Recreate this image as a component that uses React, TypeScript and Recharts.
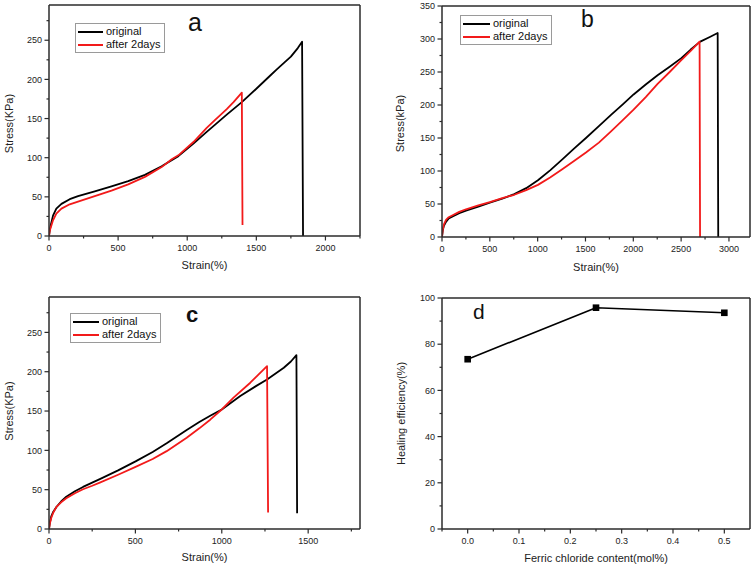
import React from "react";
import { LineChart, Line, XAxis, YAxis, ReferenceLine } from "recharts";

const FONT = '"Liberation Sans", Arial, sans-serif';
const AXIS = "#2b2b2b";
const BLACK = "#000000";
const RED = "#f21a1a";

// panel a
const aOrigStrain = [0, 5, 12, 29, 53, 90, 150, 210, 331, 452, 573, 694, 815, 936, 1045, 1141, 1200, 1286, 1395, 1500, 1601, 1650, 1700, 1750, 1800, 1831, 1838];
const aOrigStress = [0, 7, 13.6, 26, 35, 41, 47, 51, 57, 63.5, 70, 78, 89, 102, 118, 133, 142, 155, 171, 188, 205, 213, 221, 229, 240, 248, 0];
const aHealStrain = [0, 4, 10, 29, 53, 90, 150, 210, 331, 452, 573, 694, 815, 888, 936, 1045, 1141, 1200, 1286, 1335, 1395, 1400];
const aHealStress = [0, 5, 9.4, 20, 28.6, 35, 40.5, 44, 51, 58, 66, 75.5, 88, 98, 103, 120, 138, 148, 162, 171, 183, 14];
const aStrainTicks = [0, 250, 500, 750, 1000, 1250, 1500, 1750, 2000, 2250];
const aStressTicks = [0, 25, 50, 75, 100, 125, 150, 175, 200, 225, 250, 275];

// panel b
const bOrigStrain = [0, 8, 20, 42, 70, 111, 180, 251, 380, 500, 630, 756, 880, 1003, 1130, 1261, 1380, 1505, 1640, 1767, 1890, 2003, 2130, 2254, 2380, 2502, 2600, 2700, 2800, 2882, 2888];
const bOrigStress = [0, 10, 17, 23, 28, 31, 36, 40, 46, 52, 58, 65, 74, 86, 101, 118, 134, 150, 168, 185, 201, 216, 231, 245, 258, 271, 284, 296, 303, 309, 0];
const bHealStrain = [0, 8, 20, 42, 70, 111, 180, 251, 380, 500, 630, 756, 880, 1003, 1130, 1261, 1380, 1505, 1640, 1767, 1890, 2003, 2130, 2254, 2380, 2502, 2600, 2693, 2698];
const bHealStress = [0, 11, 19, 26, 30, 33, 38, 42, 48, 53, 59, 64, 71, 79, 90, 103, 115, 128, 143, 160, 177, 193, 212, 232, 250, 268, 282, 296, 0];
const bStrainTicks = [0, 250, 500, 750, 1000, 1250, 1500, 1750, 2000, 2250, 2500, 2750, 3000];
const bStressTicks = [0, 25, 50, 75, 100, 125, 150, 175, 200, 225, 250, 275, 300, 325, 350];

// panel c
const cOrigStrain = [0, 5, 13, 25, 43, 70, 100, 150, 197, 250, 294, 400, 501, 600, 681, 797, 870, 933, 1000, 1107, 1200, 1262, 1359, 1400, 1432, 1436];
const cOrigStress = [0, 8, 16, 22, 28, 35, 41, 48, 53.5, 59, 63.5, 74.5, 86, 98, 109, 126, 136, 144, 152, 169, 182, 190, 205, 213, 221, 20];
const cHealStrain = [0, 5, 13, 25, 43, 70, 100, 150, 197, 250, 294, 400, 501, 600, 681, 797, 870, 933, 1000, 1068, 1165, 1262, 1268];
const cHealStress = [0, 7, 14, 21, 28, 34, 39, 45.5, 50.5, 55, 59, 69, 79, 89, 99, 116, 128, 139, 152, 167, 186, 207, 21];
const cStrainTicks = [0, 250, 500, 750, 1000, 1250, 1500, 1750];
const cStressTicks = [0, 25, 50, 75, 100, 125, 150, 175, 200, 225, 250, 275];

// panel d
const dContent = [0, 0.25, 0.5];
const dEfficiency = [73.5, 95.8, 93.6];
const dContentTicks = [-0.05, 0, 0.05, 0.1, 0.15, 0.2, 0.25, 0.3, 0.35, 0.4, 0.45, 0.5];
const dEffTicks = [0, 10, 20, 30, 40, 50, 60, 70, 80, 90, 100];

const seriesNames = ["original", "after 2days"];

const toPoints = (xs: number[], ys: number[]) => xs.map((x, i) => ({ x, y: ys[i] }));

const isMajor = (v: number, step: number) => Math.abs(v / step - Math.round(v / step)) < 1e-6;

function makeTick(axis: "x" | "y", step: number, fmt: (v: number) => string) {
  return (props: any) => {
    const { x, y, payload } = props;
    const v = payload.value as number;
    const major = isMajor(v, step);
    const len = major ? 4.5 : 2.5;
    if (axis === "x") {
      return (
        <g>
          <line x1={x} x2={x} y1={y} y2={y + len} stroke={AXIS} strokeWidth={1.2} />
          {major && (
            <text x={x} y={y + 15} textAnchor="middle" fontSize={9} fill="#222" fontFamily={FONT}>
              {fmt(v)}
            </text>
          )}
        </g>
      );
    }
    return (
      <g>
        <line x1={x} x2={x - len} y1={y} y2={y} stroke={AXIS} strokeWidth={1.2} />
        {major && (
          <text x={x - 7} y={y + 3.2} textAnchor="end" fontSize={9} fill="#222" fontFamily={FONT}>
            {fmt(v)}
          </text>
        )}
      </g>
    );
  };
}

function XTitle(props: any) {
  const { viewBox, value, dy } = props;
  return (
    <text x={viewBox.x + viewBox.width / 2} y={viewBox.y + dy} textAnchor="middle" dominantBaseline="central"
      fontSize={11} fill="#222" fontFamily={FONT}>
      {value}
    </text>
  );
}

function YTitle(props: any) {
  const { viewBox, value, dx, dy } = props;
  const cx = viewBox.x + dx;
  const cy = viewBox.y + viewBox.height / 2 + dy;
  return (
    <text x={cx} y={cy} transform={`rotate(-90 ${cx} ${cy})`} textAnchor="middle" dominantBaseline="central"
      fontSize={11} fill="#222" fontFamily={FONT}>
      {value}
    </text>
  );
}

type Series = { data: { x: number; y: number }[]; color: string; squares?: boolean };

type PanelProps = {
  left: number;
  top: number;
  margin: { top: number; right: number; bottom: number; left: number };
  yWidth: number;
  xHeight: number;
  xDomain: [number, number];
  yDomain: [number, number];
  xTicks: number[];
  yTicks: number[];
  xStep: number;
  yStep: number;
  xFmt?: (v: number) => string;
  xTitle: string;
  yTitle: string;
  xTitleDy: number;
  yTitleDx: number;
  yTitleDy: number;
  series: Series[];
};

function Square(props: any) {
  const { cx, cy } = props;
  return <rect x={cx - 3.3} y={cy - 3.3} width={6.6} height={6.6} fill={BLACK} />;
}

function Panel(p: PanelProps) {
  return (
    <div style={{ position: "absolute", left: p.left, top: p.top }}>
      <LineChart width={378} height={283} margin={p.margin}>
        <XAxis type="number" dataKey="x" domain={p.xDomain} ticks={p.xTicks} interval={0}
          allowDataOverflow tickSize={0} tickMargin={0} tickLine={false} height={p.xHeight}
          axisLine={{ stroke: AXIS, strokeWidth: 1.5 }}
          tick={makeTick("x", p.xStep, p.xFmt || ((v) => String(v)))}
          label={<XTitle value={p.xTitle} dy={p.xTitleDy} />} />
        <YAxis type="number" dataKey="y" domain={p.yDomain} ticks={p.yTicks} interval={0}
          allowDataOverflow tickSize={0} tickMargin={0} tickLine={false} width={p.yWidth}
          axisLine={{ stroke: AXIS, strokeWidth: 1.5 }}
          tick={makeTick("y", p.yStep, (v) => String(v))}
          label={<YTitle value={p.yTitle} dx={p.yTitleDx} dy={p.yTitleDy} />} />
        <ReferenceLine y={p.yDomain[1]} stroke={AXIS} strokeWidth={1.5} />
        <ReferenceLine x={p.xDomain[1]} stroke={AXIS} strokeWidth={1.5} />
        {p.series.map((s, i) => (
          <Line key={i} data={s.data} dataKey="y" type="linear" stroke={s.color} strokeWidth={s.squares ? 1.6 : 1.8}
            strokeLinejoin="round" dot={s.squares ? <Square /> : false} activeDot={false} isAnimationActive={false} />
        ))}
      </LineChart>
    </div>
  );
}

function LegendBox({ left, top, lineW }: { left: number; top: number; lineW: number }) {
  return (
    <div style={{
      position: "absolute", left, top, border: "1px solid #9a9a9a", padding: "1px 4px 1px 2px",
      fontFamily: FONT, fontSize: 11, lineHeight: "13px", color: "#111", background: "#fff",
    }}>
      {seriesNames.map((n, i) => (
        <div key={n} style={{ display: "flex", alignItems: "center", whiteSpace: "nowrap" }}>
          <span style={{ display: "inline-block", width: lineW, height: 2, background: i === 0 ? BLACK : RED, marginRight: 3 }} />
          {n}
        </div>
      ))}
    </div>
  );
}

function Letter({ left, top, text, size, bold }: { left: number; top: number; text: string; size: number; bold?: boolean }) {
  return (
    <div style={{ position: "absolute", left, top, fontFamily: FONT, fontSize: size, lineHeight: 1, fontWeight: bold ? 700 : 400, color: "#111" }}>
      {text}
    </div>
  );
}

export default function App() {
  return (
    <div style={{ position: "absolute", left: 0, top: 0, width: 756, height: 566, background: "#fff", overflow: "hidden" }}>
      <Panel left={0} top={0} margin={{ top: 5, right: 18, bottom: 0, left: 0 }} yWidth={49} xHeight={47}
        xDomain={[0, 2250]} yDomain={[0, 295]} xTicks={aStrainTicks} yTicks={aStressTicks} xStep={500} yStep={50}
        xTitle="Strain(%)" yTitle="Stress(KPa)" xTitleDy={29} yTitleDx={9} yTitleDy={3}
        series={[
          { data: toPoints(aOrigStrain, aOrigStress), color: BLACK },
          { data: toPoints(aHealStrain, aHealStress), color: RED },
        ]} />
      <Panel left={378} top={0} margin={{ top: 6, right: 6, bottom: 0, left: 0 }} yWidth={64} xHeight={46}
        xDomain={[0, 3220]} yDomain={[0, 350]} xTicks={bStrainTicks} yTicks={bStressTicks} xStep={500} yStep={50}
        xTitle="Strain(%)" yTitle="Stress(kPa)" xTitleDy={30} yTitleDx={22} yTitleDy={2}
        series={[
          { data: toPoints(bOrigStrain, bOrigStress), color: BLACK },
          { data: toPoints(bHealStrain, bHealStress), color: RED },
        ]} />
      <Panel left={0} top={283} margin={{ top: 14, right: 18, bottom: 0, left: 0 }} yWidth={49} xHeight={37}
        xDomain={[0, 1800]} yDomain={[0, 295]} xTicks={cStrainTicks} yTicks={cStressTicks} xStep={500} yStep={50}
        xTitle="Strain(%)" yTitle="Stress(KPa)" xTitleDy={28} yTitleDx={9} yTitleDy={-2}
        series={[
          { data: toPoints(cOrigStrain, cOrigStress), color: BLACK },
          { data: toPoints(cHealStrain, cHealStress), color: RED },
        ]} />
      <Panel left={378} top={283} margin={{ top: 15, right: 6, bottom: 0, left: 0 }} yWidth={64} xHeight={37}
        xDomain={[-0.05, 0.55]} yDomain={[0, 100]} xTicks={dContentTicks} yTicks={dEffTicks} xStep={0.1} yStep={20}
        xFmt={(v) => v.toFixed(1)}
        xTitle="Ferric chloride content(mol%)" yTitle="Healing efficiency(%)" xTitleDy={29} yTitleDx={23} yTitleDy={0}
        series={[{ data: toPoints(dContent, dEfficiency), color: BLACK, squares: true }]} />

      <LegendBox left={75} top={23} lineW={25} />
      <LegendBox left={460} top={15} lineW={27} />
      <LegendBox left={70} top={313} lineW={26} />

      <Letter left={188} top={10} text="a" size={25} />
      <Letter left={581} top={8} text="b" size={23} />
      <Letter left={186} top={304} text="c" size={22} bold />
      <Letter left={473} top={301} text="d" size={21} />
    </div>
  );
}
